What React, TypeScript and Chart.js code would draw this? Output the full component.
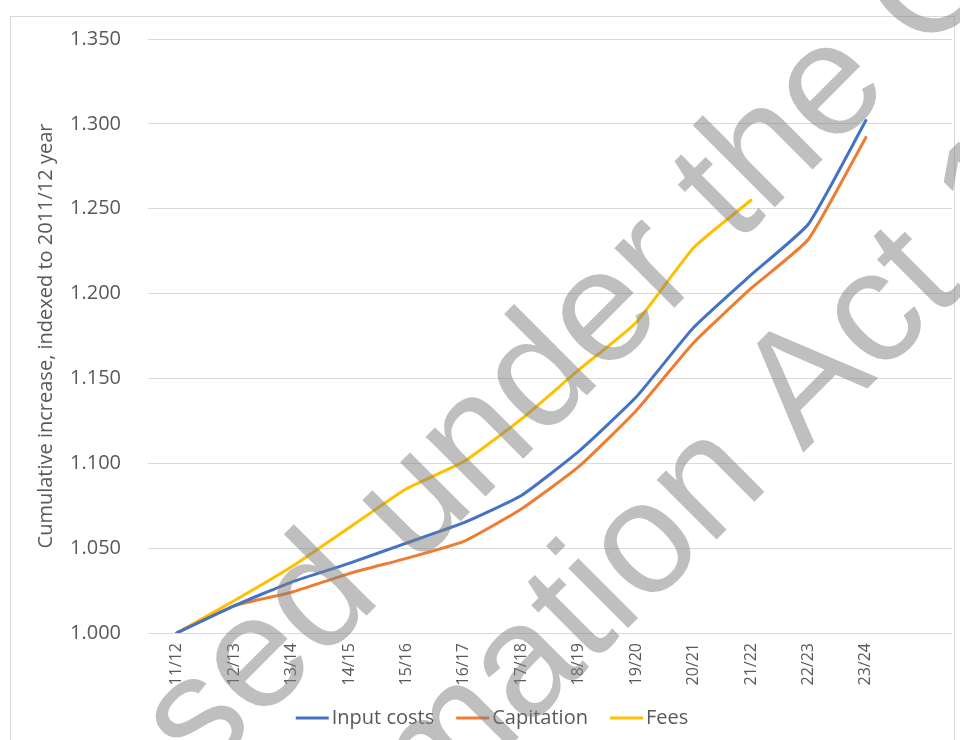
import React, { useEffect, useRef } from "react";
import { Chart, registerables } from "chart.js";

Chart.register(...registerables);

const categories = ["11/12", "12/13", "13/14", "14/15", "15/16", "16/17", "17/18", "18/19", "19/20", "20/21", "21/22", "22/23", "23/24", ""];
const inputCosts = [1.0, 1.016, 1.03, 1.041, 1.053, 1.065, 1.081, 1.107, 1.139, 1.18, 1.211, 1.241, 1.302, null];
const capitation = [1.0, 1.016, 1.024, 1.035, 1.044, 1.054, 1.073, 1.098, 1.131, 1.171, 1.203, 1.232, 1.292, null];
const fees = [1.0, 1.019, 1.039, 1.062, 1.085, 1.101, 1.126, 1.155, 1.183, 1.227, 1.255, null, null, null];
const yTicks = [1.0, 1.05, 1.1, 1.15, 1.2, 1.25, 1.3, 1.35];
const yTitle = "Cumulative increase, indexed to 2011/12 year";
const watermarkLines = ["Released under the Official", "Information Act 1982"];

const TEXT = "#595959";
const GRID = "#d9d9d9";

const framePlugin = {
  id: "frame",
  beforeDraw(chart: any) {
    const ctx = chart.ctx;
    ctx.save();
    ctx.fillStyle = "#ffffff";
    ctx.fillRect(0, 0, chart.width, chart.height);
    ctx.strokeStyle = GRID;
    ctx.lineWidth = 1;
    ctx.strokeRect(10.5, 16.5, 944, 800);
    ctx.restore();
  },
};

// Excel-style legend: short line, small gap, label
const legendPlugin = {
  id: "excelLegend",
  afterDatasetsDraw(chart: any) {
    const ctx = chart.ctx;
    ctx.save();
    ctx.font = "20px 'Open Sans', sans-serif";
    ctx.textBaseline = "middle";
    ctx.textAlign = "left";
    const lineLen = 33;
    const gap = 3;
    const itemGap = 22;
    const items = chart.data.datasets.map((d: any) => ({
      text: d.label,
      color: d.borderColor,
      w: ctx.measureText(d.label).width,
    }));
    const total = items.reduce((s: number, it: any) => s + lineLen + gap + it.w, 0) + itemGap * (items.length - 1);
    let x = 492 - total / 2;
    const y = 718;
    items.forEach((it: any) => {
      ctx.strokeStyle = it.color;
      ctx.lineWidth = 3;
      ctx.beginPath();
      ctx.moveTo(x, y);
      ctx.lineTo(x + lineLen, y);
      ctx.stroke();
      ctx.fillStyle = TEXT;
      ctx.fillText(it.text, x + lineLen + gap, y);
      x += lineLen + gap + it.w + itemGap;
    });
    ctx.restore();
  },
};

const watermarkPlugin = {
  id: "watermark",
  afterDraw(chart: any) {
    const ctx = chart.ctx;
    ctx.save();
    ctx.font = "160px 'Liberation Sans'";
    ctx.fillStyle = "rgba(128,128,128,0.5)";
    ctx.textBaseline = "alphabetic";
    ctx.textAlign = "left";
    const ang = -Math.PI / 4;
    ctx.save();
    ctx.translate(830, 152);
    ctx.rotate(ang);
    ctx.fillText(watermarkLines[0], -ctx.measureText("Released under th").width, 0);
    ctx.restore();
    ctx.save();
    ctx.translate(803, 453);
    ctx.rotate(ang);
    ctx.fillText(watermarkLines[1], -ctx.measureText("Information ").width, 0);
    ctx.restore();
    ctx.restore();
  },
};

export default function App() {
  const ref = useRef<HTMLCanvasElement | null>(null);
  useEffect(() => {
    if (!ref.current) return;
    Chart.defaults.font.family = "'Open Sans', sans-serif";
    const mk = (label: string, data: (number | null)[], color: string) => ({
      label,
      data,
      borderColor: color,
      backgroundColor: color,
      borderWidth: 3,
      pointRadius: 0,
      pointHoverRadius: 0,
      tension: 0.15,
      borderCapStyle: "round" as const,
      borderJoinStyle: "round" as const,
      spanGaps: false,
    });
    const chart = new Chart(ref.current, {
      type: "line",
      data: {
        labels: categories,
        datasets: [
          mk("Input costs", inputCosts, "#4472C4"),
          mk("Capitation", capitation, "#ED7D31"),
          mk("Fees", fees, "#FFC000"),
        ],
      },
      options: {
        animation: false,
        responsive: true,
        maintainAspectRatio: false,
        layout: { padding: { left: 30, right: 8, top: 39, bottom: 52 } },
        plugins: {
          tooltip: { enabled: false },
          legend: { display: false },
        },
        scales: {
          x: {
            type: "category",
            offset: true,
            grid: { display: false, drawTicks: false },
            border: { display: false },
            ticks: {
              autoSkip: false,
              minRotation: 90,
              maxRotation: 90,
              padding: 10,
              color: TEXT,
              font: { size: 16 },
            },
            afterFit: (s: any) => {
              s.height = 55;
            },
          },
          y: {
            min: 1,
            max: 1.35,
            grid: { color: GRID, lineWidth: 1, drawTicks: false },
            border: { display: false },
            afterBuildTicks: (s: any) => {
              s.ticks = yTicks.map((v) => ({ value: v }));
            },
            ticks: {
              padding: 27,
              color: TEXT,
              font: { size: 20 },
              callback: (v: any) => Number(v).toFixed(3),
            },
            title: {
              display: true,
              text: yTitle,
              color: TEXT,
              font: { size: 20 },
              padding: { top: 4, bottom: 4 },
            },
            afterFit: (s: any) => {
              s.width = 118;
            },
          },
        },
      },
      plugins: [framePlugin, legendPlugin, watermarkPlugin],
    });
    return () => chart.destroy();
  }, []);
  return (
    <div style={{ position: "absolute", left: 0, top: 0, width: 960, height: 740 }}>
      <canvas ref={ref} />
    </div>
  );
}
